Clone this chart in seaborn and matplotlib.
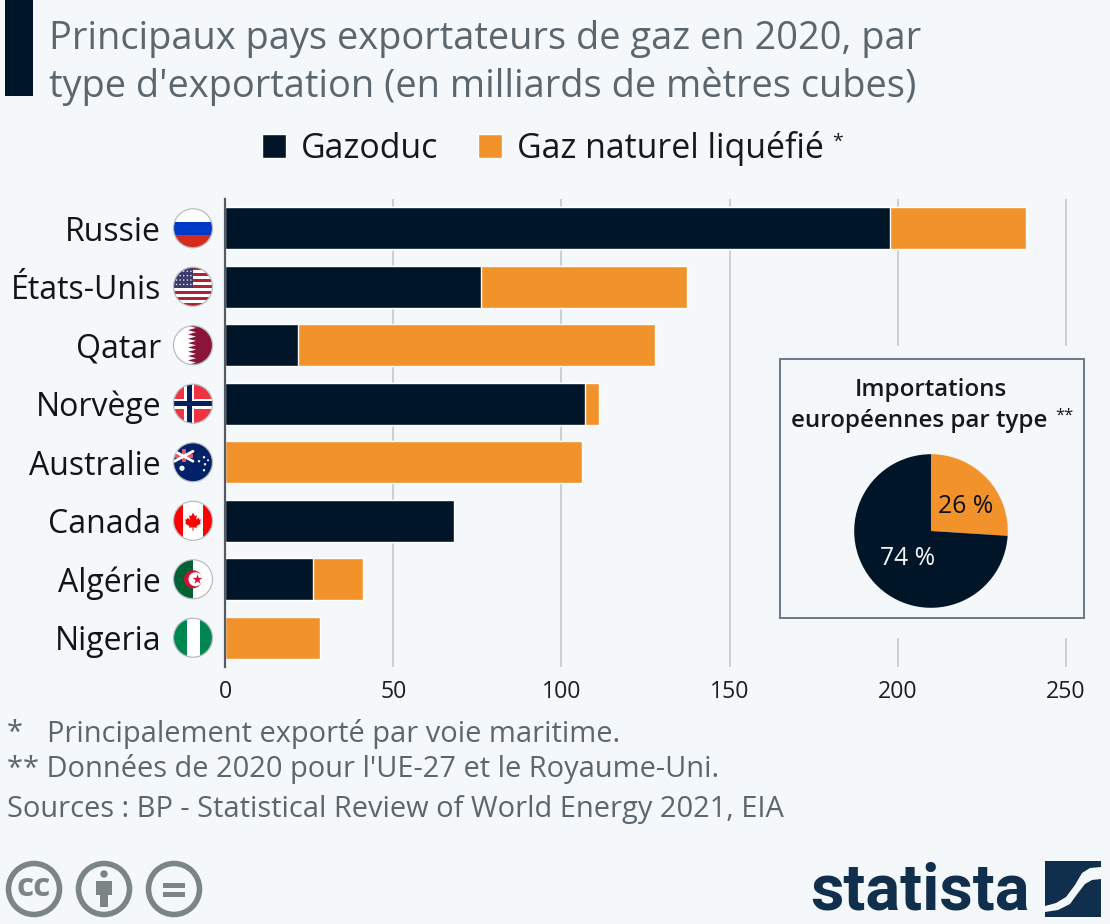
"""
Principaux pays exportateurs de gaz en 2020 (bar chart with inset pie).
"""

import matplotlib
matplotlib.use("Agg")
import matplotlib.pyplot as plt
from matplotlib.patches import Circle, Polygon, Rectangle
import seaborn as sns
import pandas as pd

countries = ["Russie", "États-Unis", "Qatar", "Norvège", "Australie", "Canada", "Algérie", "Nigeria"]
flags = ["russia", "usa", "qatar", "norway", "australia", "canada", "algeria", "nigeria"]
gazoduc = [197.7, 76.1, 21.7, 107.0, 0.0, 68.1, 26.2, 0.0]
total = [238.1, 137.4, 127.8, 111.2, 106.1, 68.1, 41.0, 28.2]
x_ticks = [0, 50, 100, 150, 200, 250]
pie_values = [26, 74]
pie_labels = ["26 %", "74 %"]

BG = "#f5f8fb"
NAVY = "#011528"
ORANGE = "#f2922a"
GREY_TEXT = "#5b666e"
GRID = "#c3c8cc"
LOGO = "#0f2f4c"
ICON = "#7b8583"

sns.set_theme(style="white")
plt.rcParams["font.family"] = ["Open Sans", "DejaVu Sans"]

fig = plt.figure(figsize=(11.1, 9.24), dpi=100, facecolor=BG)
W, H = 1110, 924


def px_axes(left, top, right, bottom, **kw):
    return fig.add_axes([left / W, 1 - bottom / H, (right - left) / W, (bottom - top) / H], **kw)


# =====================================================
# Bars
# =====================================================

df = pd.DataFrame({"pays": countries, "gazoduc": gazoduc, "total": total})

ax = px_axes(225, 199, 1100, 667, facecolor=BG)
sns.barplot(data=df, x="total", y="pays", color=ORANGE, width=0.72, saturation=1,
            label="Gaz naturel liquéfié", ax=ax, zorder=3)
sns.barplot(data=df, x="gazoduc", y="pays", color=NAVY, width=0.72, saturation=1,
            label="Gazoduc", ax=ax, zorder=4)
ax.get_legend().remove()
ax.set_xlim(0, 260.1)
ax.set_ylim(7.5, -0.5)
ax.set_xlabel("")
ax.set_ylabel("")
ax.set_xticks(x_ticks)
ax.grid(axis="x", color=GRID, linewidth=1.2, zorder=0)
ax.grid(axis="y", visible=False)
for name in ["top", "right", "bottom"]:
    ax.spines[name].set_visible(False)
ax.spines["left"].set_color("#555c62")
ax.spines["left"].set_linewidth(1.6)
ax.spines["left"].set_zorder(6)
ax.tick_params(axis="x", length=0, labelsize=16.7, labelcolor="#1c1f22", pad=9.5)
ax.tick_params(axis="y", length=0, labelsize=23, labelcolor="#111518", pad=46)

handles, labels = ax.get_legend_handles_labels()
fig.legend(handles[::-1], labels[::-1], loc="center left", bbox_to_anchor=(262 / W, 1 - 148 / H),
           ncol=2, frameon=False, fontsize=24.4, labelcolor="#15191c",
           handlelength=0.72, handleheight=0.72, handletextpad=0.44, columnspacing=1.16,
           borderaxespad=0, borderpad=0)

# =====================================================
# Overlay in pixel coordinates
# =====================================================

ov = fig.add_axes([0, 0, 1, 1], facecolor="none", zorder=5)
ov.set_xlim(0, W)
ov.set_ylim(H, 0)
ov.axis("off")

ov.add_patch(Rectangle((5, 0), 28, 96, color=NAVY, lw=0))
ov.text(49, 39, "Principaux pays exportateurs de gaz en 2020, par", fontsize=27.4,
        color=GREY_TEXT, va="center", ha="left")
ov.text(49, 86, "type d'exportation (en milliards de mètres cubes)", fontsize=27.4,
        color=GREY_TEXT, va="center", ha="left")
ov.text(832, 142, "*", fontsize=14, color="#15191c", va="center", ha="left")

ov.text(7, 733, "*", fontsize=20.9, color=GREY_TEXT, va="center", ha="left")
ov.text(47, 734, "Principalement exporté par voie maritime.", fontsize=20.9,
        color=GREY_TEXT, va="center", ha="left")
ov.text(7, 769, "** Données de 2020 pour l'UE-27 et le Royaume-Uni.", fontsize=20.9,
        color=GREY_TEXT, va="center", ha="left")
ov.text(7, 810, "Sources : BP - Statistical Review of World Energy 2021, EIA", fontsize=20.9,
        color=GREY_TEXT, va="center", ha="left")

# =====================================================
# Flags
# =====================================================


def rect(x, y, w, h, color, clip):
    r = Rectangle((x, y), w, h, color=color, lw=0)
    ov.add_patch(r)
    r.set_clip_path(clip)


def poly(points, color, clip):
    p = Polygon(points, closed=True, color=color, lw=0)
    ov.add_patch(p)
    p.set_clip_path(clip)


def disc(x, y, r, color, clip):
    c = Circle((x, y), r, color=color, lw=0)
    ov.add_patch(c)
    c.set_clip_path(clip)


def draw_flag(kind, cx, cy, r=19.5):
    clip = Circle((cx, cy), r, transform=ov.transData)
    x0, y0, d = cx - r, cy - r, 2 * r
    if kind == "russia":
        rect(x0, y0, d, d / 3, "#ffffff", clip)
        rect(x0, y0 + d / 3, d, d / 3, "#0039c6", clip)
        rect(x0, y0 + 2 * d / 3, d, d / 3, "#d52b1e", clip)
    elif kind == "usa":
        for i in range(13):
            rect(x0, y0 + i * d / 13, d, d / 13 + 0.2, "#b22234" if i % 2 == 0 else "#ffffff", clip)
        rect(x0, y0, d * 0.5, d * 7 / 13, "#3c3b6e", clip)
        for i in range(5):
            for j in range(4):
                disc(x0 + 3 + i * 3.6, y0 + 4 + j * 4.4, 0.7, "#ffffff", clip)
    elif kind == "qatar":
        rect(x0, y0, d, d, "#ffffff", clip)
        pts = [(cx + r, y0), (cx - 5, y0)]
        for i in range(9):
            pts.append((cx + 3, y0 + (i + 0.5) * d / 9))
            pts.append((cx - 5, y0 + (i + 1) * d / 9))
        pts.append((cx + r, y0 + d))
        poly(pts, "#8a1538", clip)
    elif kind == "norway":
        rect(x0, y0, d, d, "#ef3340", clip)
        rect(cx - 9, y0, 10, d, "#ffffff", clip)
        rect(x0, cy - 5, d, 10, "#ffffff", clip)
        rect(cx - 6.5, y0, 5, d, "#00205b", clip)
        rect(x0, cy - 2.5, d, 5, "#00205b", clip)
    elif kind == "australia":
        rect(x0, y0, d, d, "#012169", clip)
        for ys in [(cy - 11, cy - 1), (cy - 1, cy - 11)]:
            line, = ov.plot([x0 + 1, cx], ys, color="#ffffff", lw=2)
            line.set_clip_path(clip)
        rect(x0, cy - 8, d * 0.5, 4, "#e4566c", clip)
        rect(cx - 11, cy - 13, 4, 13, "#e4566c", clip)
        for dx, dy, s in [(-11, 6, 2.6), (6, -1, 1.2), (11, -5, 1.2), (15, -2, 1.0), (12, 2, 1.2), (11, 8, 1.2)]:
            disc(cx + dx, cy + dy, s, "#ffffff", clip)
    elif kind == "canada":
        rect(x0, y0, d, d, "#ffffff", clip)
        rect(x0, y0, d * 0.25, d, "#ff0000", clip)
        rect(x0 + d * 0.75, y0, d * 0.25, d, "#ff0000", clip)
        leaf = [(0, -8), (2, -4.5), (4, -5.5), (3, -1), (5.5, -3), (6.5, -1), (8, -1.5), (7, 1.5),
                (8, 2.5), (3.5, 5.5), (4, 7), (0.5, 6.5), (0.5, 10), (-0.5, 10), (-0.5, 6.5), (-4, 7),
                (-3.5, 5.5), (-8, 2.5), (-7, 1.5), (-8, -1.5), (-6.5, -1), (-5.5, -3), (-3, -1), (-4, -5.5), (-2, -4.5)]
        poly([(cx + a, cy + b) for a, b in leaf], "#ff0000", clip)
    elif kind == "algeria":
        rect(x0, y0, d, d, "#ffffff", clip)
        rect(x0, y0, d / 2, d, "#006233", clip)
        disc(cx, cy, 9, "#d21034", clip)
        disc(cx + 2.5, cy, 7, "#ffffff", clip)
        ov.scatter([cx + 4], [cy], s=55, marker="*", color="#d21034", lw=0, zorder=3)
    elif kind == "nigeria":
        rect(x0, y0, d, d, "#008751", clip)
        rect(x0 + d / 3, y0, d / 3, d, "#ffffff", clip)
    ov.add_patch(Circle((cx, cy), r, facecolor="none", edgecolor="#b9bcc0", lw=0.9))


for i, kind in enumerate(flags):
    # row position comes from the bar axis
    _, py = ax.transData.transform((0, i))
    draw_flag(kind, 193, H - py)

# =====================================================
# Inset box and pie
# =====================================================

ov.add_patch(Rectangle((770, 346), 330, 292, color=BG, lw=0, zorder=1))
ov.add_patch(Rectangle((779.5, 359), 304, 259, facecolor=BG, edgecolor="#6a7784", lw=1.4, zorder=2))
ov.text(931, 390, "Importations", fontsize=17.4, fontweight="semibold", color="#15191c",
        ha="center", va="center", zorder=3)
ov.text(919.5, 421, "européennes par type", fontsize=17.4, fontweight="semibold", color="#15191c",
        ha="center", va="center", zorder=3)
ov.text(1055, 416, "**", fontsize=12, color="#15191c", ha="left", va="center", zorder=3)

ax_pie = px_axes(835, 435, 1027, 627, facecolor="none", zorder=6)
wedges, texts = ax_pie.pie(pie_values, colors=[ORANGE, NAVY], startangle=90, counterclock=False,
                           radius=1, labels=pie_labels, labeldistance=0.55,
                           wedgeprops={"linewidth": 0},
                           textprops={"fontsize": 17.8, "ha": "center", "va": "center"})
texts[0].set_color("#0b0f12")
texts[1].set_color("#f5f8fb")
texts[0].set_position((0.45, 0.32))
texts[1].set_position((-0.3, -0.36))

# =====================================================
# Licence icons and logo
# =====================================================

for cx in [34, 104, 174]:
    ov.add_patch(Circle((cx, 889), 25.5, facecolor="none", edgecolor=ICON, lw=4))
ov.text(34, 888, "cc", fontsize=24, fontweight="bold", color=ICON, ha="center", va="center")
ov.add_patch(Circle((104, 874), 3.7, color=ICON, lw=0))
ov.add_patch(Rectangle((96, 881), 16, 14, color=ICON, lw=0))
ov.add_patch(Rectangle((100, 890), 8, 17, color=ICON, lw=0))
ov.add_patch(Rectangle((163, 883), 22, 5, color=ICON, lw=0))
ov.add_patch(Rectangle((163, 892), 22, 5, color=ICON, lw=0))

ov.text(810, 892, "statista", fontsize=46.7, fontweight="bold", color=LOGO, ha="left", va="center",
        family="Roboto")
ov.add_patch(Polygon([(1045, 861), (1101, 861), (1101, 867), (1090, 868), (1082, 873), (1075, 885),
                      (1066, 897), (1056, 903), (1045, 906)], closed=True, color=LOGO, lw=0))
ov.add_patch(Polygon([(1101, 879), (1101, 917), (1045, 917), (1045, 912), (1058, 910), (1070, 904),
                      (1078, 893), (1085, 884), (1092, 880)], closed=True, color=LOGO, lw=0))

fig.savefig("out.png", dpi=100, facecolor=BG)
